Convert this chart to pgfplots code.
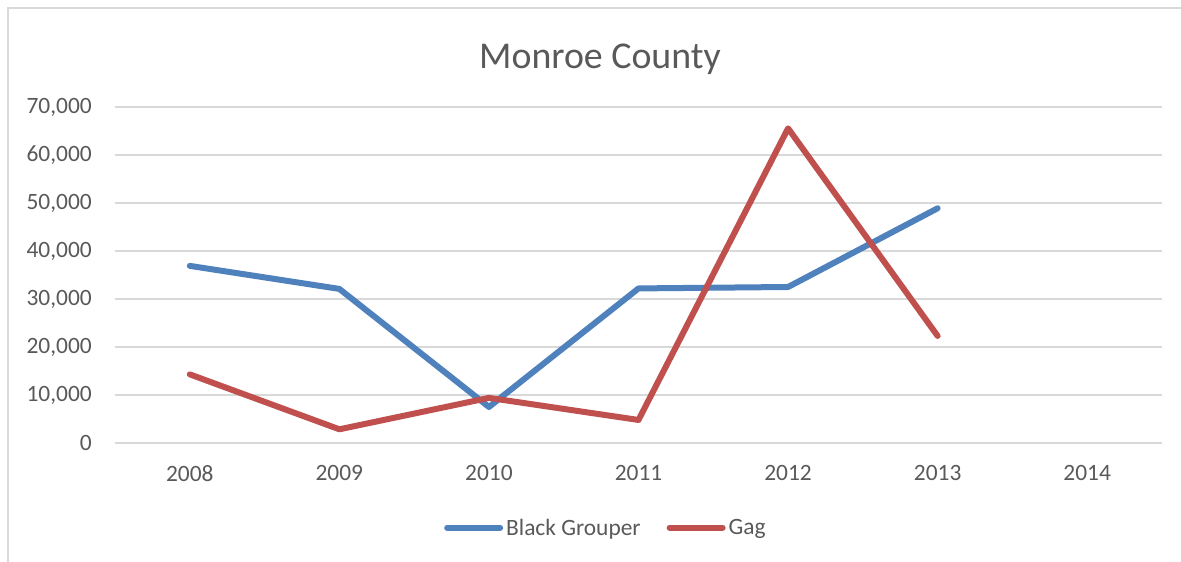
\documentclass[border=0pt]{standalone}
\usepackage{pgfplots}
\pgfplotsset{compat=1.18}
\usepackage{fontspec}
\setmainfont{Carlito}

\definecolor{txt}{HTML}{595959}
\definecolor{gridc}{HTML}{D9D9D9}
\definecolor{grouper}{HTML}{4F81BD}
\definecolor{gag}{HTML}{C0504D}

\begin{document}
\begin{tikzpicture}[x=1bp, y=1bp]
  \useasboundingbox (0,0) rectangle (1181,562);
  % chart frame (left and top edges visible)
  \draw[gridc, line width=1.5bp] (8,-2) -- (8,554) -- (1185,554);
  % title
  \node[anchor=base, text=txt, font=\fontsize{38}{45}\selectfont, inner sep=0]
    at (600,493) {Monroe County};

  \begin{axis}[
      at={(115bp,119bp)}, anchor=south west,
      scale only axis, width=1047bp, height=336bp,
      xmin=2007.5, xmax=2014.5,
      ymin=0, ymax=70000,
      xtick={2008,2009,2010,2011,2012,2013,2014},
      xticklabels={2008,2009,2010,2011,2012,2013,2014},
      ytick={0,10000,20000,30000,40000,50000,60000,70000},
      scaled y ticks=false,
      /pgf/number format/.cd, 1000 sep={,}, assume math mode=true, /pgfplots/.cd,
      major tick length=0pt,
      axis line style={draw=none},
      ymajorgrids,
      major grid style={gridc, line width=1.4bp},
      tick label style={text=txt, font=\fontsize{23.5}{28}\selectfont, inner sep=0pt},
      xticklabel style={anchor=north, yshift=-22bp},
      yticklabel style={anchor=east, xshift=-23bp},
      clip=false,
      legend columns=2,
      legend style={draw=none, fill=none, inner sep=0pt,
                    at={(0.3142,-0.252)}, anchor=west,
                    font=\fontsize{23.5}{28}\selectfont, text=txt,
                    nodes={inner sep=0pt, anchor=west},
                    /tikz/every even column/.append style={column sep=26bp}},
      legend image code/.code={\draw[#1, line cap=round] (0bp,0bp) -- (53bp,0bp);},
    ]
    \addplot[grouper, line width=6bp, line cap=round, line join=round] coordinates {
      (2008,36900) (2009,32100) (2010,7500) (2011,32200) (2012,32500) (2013,48900)
    };
    \addlegendentry{\hspace{3bp}Black Grouper}
    \addplot[gag, line width=6bp, line cap=round, line join=round] coordinates {
      (2008,14300) (2009,2850) (2010,9400) (2011,4800) (2012,65550) (2013,22300)
    };
    \addlegendentry{\hspace{3bp}Gag}
  \end{axis}
\end{tikzpicture}
\end{document}
